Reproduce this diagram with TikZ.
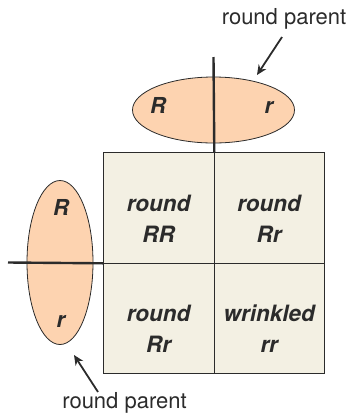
\documentclass[tikz,border=0pt]{standalone}
\usepackage{fontspec}
\setmainfont{TeX Gyre Heros}
\usetikzlibrary{arrows.meta,shapes.geometric}
\definecolor{eggfill}{HTML}{FDD3B0}
\definecolor{cellfill}{HTML}{F3F0E3}
\definecolor{ink}{HTML}{2B2B2B}
\tikzset{
  gamete/.style={ellipse, draw=ink, line width=0.8pt, fill=eggfill, inner sep=0pt},
  cell/.style={draw=ink, line width=0.8pt, fill=cellfill, minimum width=110.5pt, minimum height=110.5pt, inner sep=0pt, anchor=north west},
  celltext/.style={font=\fontsize{22.5}{31}\selectfont\bfseries\itshape, align=center, text=ink},
  allele/.style={font=\fontsize{22}{26}\selectfont\bfseries\itshape, text=ink, anchor=base},
  divider/.style={draw=ink, line width=2.4pt},
  label/.style={font=\fontsize{22}{26}\selectfont, text=ink},
  pointer/.style={draw=ink, line width=1.8pt, -{Stealth[length=10pt,width=9pt]}}
}
\begin{document}
\begin{tikzpicture}[x=1pt,y=-1pt]
\useasboundingbox (0,0) rectangle (353,416);
% grid
\node[cell] (c11) at (103,152) {};
\node[cell] (c12) at (213.5,152) {};
\node[cell] (c21) at (103,262.5) {};
\node[cell] (c22) at (213.5,262.5) {};
\node[celltext] at ([yshift=-11pt]c11.center) {round\\RR};
\node[celltext] at ([yshift=-11pt]c12.center) {round\\Rr};
\node[celltext] at ([yshift=-11pt]c21.center) {round\\Rr};
\node[celltext] at ([yshift=-11pt]c22.center) {wrinkled\\rr};
% top gamete
\node[gamete, minimum width=162pt, minimum height=66pt] (top) at (213.5,110) {};
\coordinate (topv1) at (213.5,57);
\draw[divider] (topv1) -- (c11.north east);
\node[allele] at (158,113) {R};
\node[allele] at (269,113) {r};
% left gamete
\node[gamete, minimum width=66pt, minimum height=164pt] (left) at (60,262.5) {};
\coordinate (lefth1) at (8,262.5);
\draw[divider] (lefth1) -- (c11.south west);
\node[allele] at (61,215) {R};
\node[allele] at (61,327) {r};
% labels
\node[label] (lt) at (284,19) {round parent};
\node[label] (lb) at (124.5,403) {round parent};
\coordinate (at1) at (282,37);
\coordinate (at2) at (257,75);
\draw[pointer] (at1) -- (at2);
\coordinate (ab1) at (98,392);
\coordinate (ab2) at (74,355);
\draw[pointer] (ab1) -- (ab2);
\end{tikzpicture}
\end{document}
